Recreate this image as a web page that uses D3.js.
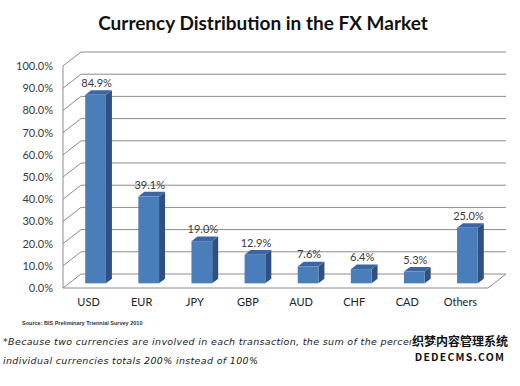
<!DOCTYPE html>
<html>
<head>
<meta charset="utf-8">
<script src="https://cdn.jsdelivr.net/npm/d3@7"></script>
<style>
    body { margin: 0; background: #fff; }
    #chart { width: 520px; height: 386px; }
</style>
</head>
<body>
<div id="chart"></div>
<script>
    // region Data
    const currencies = ['USD', 'EUR', 'JPY', 'GBP', 'AUD', 'CHF', 'CAD', 'Others'];
    const shares = [84.9, 39.1, 19.0, 12.9, 7.6, 6.4, 5.3, 25.0];
    const yTicks = [0, 10, 20, 30, 40, 50, 60, 70, 80, 90, 100];
    const title = 'Currency Distribution in the FX Market';
    const source = 'Source: BIS Preliminary Triennial Survey  2010';
    const footnote = [
        '*Because two currencies are involved in each transaction, the sum of the percentage shares of',
        'individual currencies totals 200% instead of 100%'
    ];
    const footnoteWidths = [485, 255];
    const watermark = ['织梦内容管理系统', 'DEDECMS.COM'];
    // endregion

    let df = currencies.map((c, i) => ({id: c, value: shares[i]}));

    let w = 520,
        h = 386,
        frontColor = '#4a7ebb',
        sideColor = '#2f5080',
        topColor = '#3b66a2',
        grid = '#8c8c8c',
        depthX = 18,
        depthY = -14;

    let svg = d3.select('#chart')
        .append('svg')
        .attr('width', w)
        .attr('height', h);

    // front plane scales, back wall is shifted by the depth offset
    const x = d3.scaleBand()
        .domain(currencies)
        .range([63, 488]);

    const y = d3.scaleLinear()
        .domain([0, 100])
        .range([288, 66]);

    let font = 'Lato, "Liberation Sans", sans-serif';

    svg.append('text')
        .attr('x', 263)
        .attr('y', 29.5)
        .attr('text-anchor', 'middle')
        .attr('font-family', font)
        .attr('font-weight', 'bold')
        .attr('font-size', 19)
        .attr('fill', '#111')
        .text(title);

    // back wall gridlines
    svg.selectAll('.grid')
        .data(yTicks).enter()
        .append('line')
        .attr('x1', x.range()[0] + depthX)
        .attr('x2', x.range()[1] + depthX)
        .attr('y1', d => y(d) + depthY)
        .attr('y2', d => y(d) + depthY)
        .attr('stroke', grid)
        .attr('stroke-width', 1);

    // left wall diagonals
    svg.selectAll('.diag')
        .data(yTicks).enter()
        .append('line')
        .attr('x1', x.range()[0])
        .attr('x2', x.range()[0] + depthX)
        .attr('y1', d => y(d))
        .attr('y2', d => y(d) + depthY)
        .attr('stroke', grid)
        .attr('stroke-width', 1);

    // left axis + floor edges
    svg.append('line')
        .attr('x1', x.range()[0]).attr('x2', x.range()[0])
        .attr('y1', y(0)).attr('y2', y(100))
        .attr('stroke', grid);
    svg.append('line')
        .attr('x1', x.range()[0]).attr('x2', x.range()[1])
        .attr('y1', y(0)).attr('y2', y(0))
        .attr('stroke', grid);
    svg.append('line')
        .attr('x1', x.range()[1]).attr('x2', x.range()[1] + depthX)
        .attr('y1', y(0)).attr('y2', y(0) + depthY)
        .attr('stroke', grid);

    svg.selectAll('.tick-label')
        .data(yTicks).enter()
        .append('text')
        .attr('x', 53)
        .attr('y', d => y(d) + 4)
        .attr('text-anchor', 'end')
        .attr('font-family', font)
        .attr('font-size', 11)
        .attr('fill', '#3a3a3a')
        .text(d => d.toFixed(1) + '%');

    // bars sit in the middle third of the depth
    let bw = x.bandwidth() * 0.39,
        ox = depthX / 3,
        oy = depthY / 3;
    let bx = d => x(d.id) + x.bandwidth() / 2 - bw / 2 + ox;

    let bars = svg.selectAll('.bar')
        .data(df).enter()
        .append('g');

    bars.append('path')
        .attr('d', d => {
            let x0 = bx(d) + bw, y0 = y(d.value) + oy, y1 = y(0) + oy;
            return `M${x0},${y0} L${x0 + ox},${y0 + oy} L${x0 + ox},${y1 + oy} L${x0},${y1} Z`;
        })
        .attr('fill', sideColor);

    bars.append('path')
        .attr('d', d => {
            let x0 = bx(d), y0 = y(d.value) + oy;
            return `M${x0},${y0} L${x0 + ox},${y0 + oy} L${x0 + bw + ox},${y0 + oy} L${x0 + bw},${y0} Z`;
        })
        .attr('fill', topColor);

    bars.append('rect')
        .attr('x', bx)
        .attr('y', d => y(d.value) + oy)
        .attr('width', bw)
        .attr('height', d => y(0) - y(d.value))
        .attr('fill', frontColor);

    bars.append('text')
        .attr('x', d => bx(d) + bw / 2 + 1)
        .attr('y', d => y(d.value) + oy - 8)
        .attr('text-anchor', 'middle')
        .attr('font-family', font)
        .attr('font-size', 11)
        .attr('fill', '#3a3a3a')
        .text(d => d.value.toFixed(1) + '%');

    svg.selectAll('.cat')
        .data(currencies).enter()
        .append('text')
        .attr('x', d => x(d) + x.bandwidth() / 2 - 1)
        .attr('y', 306)
        .attr('text-anchor', 'middle')
        .attr('font-family', font)
        .attr('font-size', 11)
        .attr('fill', '#222')
        .text(d => d);

    svg.append('text')
        .attr('x', 22)
        .attr('y', 325)
        .attr('font-family', '"Liberation Sans", sans-serif')
        .attr('font-weight', 'bold')
        .attr('font-size', 5.5)
        .attr('fill', '#333')
        .text(source);

    svg.selectAll('.note')
        .data(footnote).enter()
        .append('text')
        .attr('x', 3)
        .attr('y', (d, i) => 345 + i * 18.5)
        .attr('font-family', '"DejaVu Sans", Verdana, sans-serif')
        .attr('font-style', 'italic')
        .attr('font-size', 9.5)
        .attr('textLength', (d, i) => footnoteWidths[i])
        .attr('lengthAdjust', 'spacing')
        .attr('fill', '#222')
        .text(d => d);

    svg.selectAll('.wm')
        .data(watermark).enter()
        .append('text')
        .attr('x', 460)
        .attr('y', (d, i) => i ? 361 : 346)
        .attr('text-anchor', 'middle')
        .attr('font-family', '"Noto Sans CJK SC", "DejaVu Sans", sans-serif')
        .attr('font-weight', 'bold')
        .attr('font-size', (d, i) => i ? 10.5 : 12)
        .attr('letter-spacing', (d, i) => i ? 1.2 : 0)
        .attr('fill', '#111')
        .attr('stroke', '#fff')
        .attr('stroke-width', 2)
        .attr('paint-order', 'stroke')
        .text(d => d);
</script>
</body>
</html>
